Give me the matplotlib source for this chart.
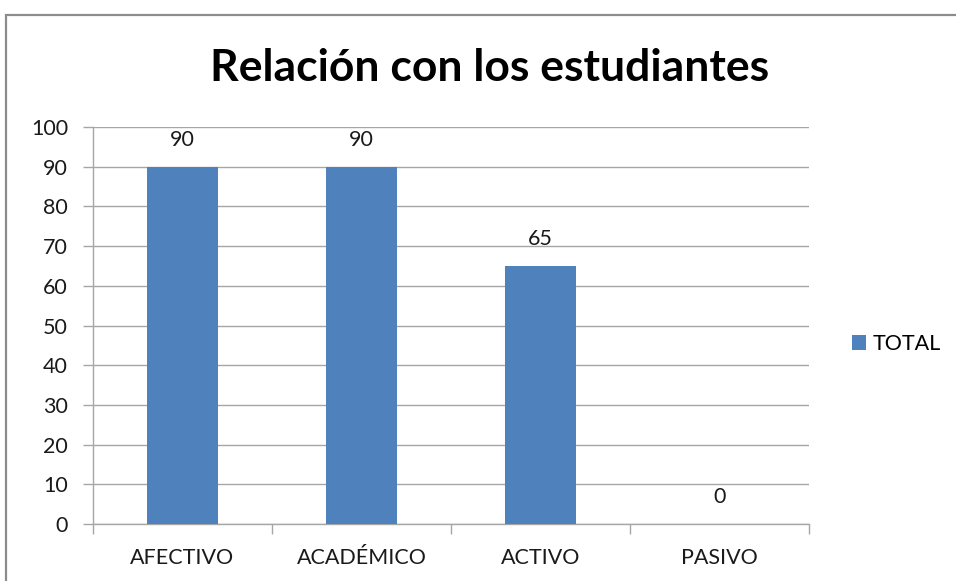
import numpy as np
import matplotlib.pyplot as plt
from matplotlib.patches import Rectangle
from matplotlib.ticker import FixedLocator, NullFormatter

categorias = ["AFECTIVO", "ACADÉMICO", "ACTIVO", "PASIVO"]
total = [90, 90, 65, 0]
serie = "TOTAL"

plt.rcParams['font.family'] = ['Lato', 'DejaVu Sans']

fig = plt.figure(figsize=(9.56, 5.81), dpi=100)
W, H = 956, 581

# chart border (grey frame, cut by image edge at right/bottom)
fig.add_artist(Rectangle((5.5 / W, -0.05), 1.1, 1 - 14.5 / H + 0.05,
                         transform=fig.transFigure, fill=False,
                         edgecolor='#8c8c8c', linewidth=1.6))

ax = fig.add_axes([93 / W, 1 - 524 / H, (809 - 93) / W, (524 - 127) / H])

x = np.arange(len(categorias))
bars = ax.bar(x, total, width=0.40, color='#4f81bd', label=serie, zorder=3)

# value labels
for xi, v in zip(x, total):
    ax.annotate(str(v), (xi, v), xytext=(0, 19.5), textcoords='offset points',
                ha='center', va='center', fontsize=15.5, color='#1a1a1a')

ax.set_xlim(-0.5, len(categorias) - 0.5)
ax.set_ylim(0, 100)
ax.set_yticks(np.arange(0, 101, 10))
ax.yaxis.grid(True, color='#a6a6a6', linewidth=1.0, zorder=0)
ax.tick_params(axis='y', length=7, width=1, color='#a6a6a6', labelsize=15.5,
               labelcolor='#1a1a1a', pad=11)

# category labels centered, ticks at boundaries
ax.set_xticks(x)
ax.set_xticklabels(categorias)
ax.tick_params(axis='x', which='major', length=0, labelsize=15.5,
               labelcolor='#1a1a1a', pad=17)
ax.xaxis.set_minor_locator(FixedLocator(np.arange(-0.5, len(categorias), 1.0)))
ax.xaxis.set_minor_formatter(NullFormatter())
ax.tick_params(axis='x', which='minor', length=7, width=1, color='#a6a6a6')

for s in ['top', 'right']:
    ax.spines[s].set_visible(False)
for s in ['left', 'bottom']:
    ax.spines[s].set_color('#a6a6a6')
    ax.spines[s].set_linewidth(1.0)

fig.text(490 / W, 1 - 68 / H, "Relación con los estudiantes", ha='center',
         va='center', fontsize=32, fontweight='bold', color='black')

fig.legend(handles=[bars], labels=[serie], loc='center left',
           bbox_to_anchor=(852 / W, 1 - 344 / H), frameon=False, fontsize=15.5,
           handlelength=0.65, handleheight=0.65, handletextpad=0.3,
           borderpad=0, borderaxespad=0)

fig.savefig("out.png", dpi=100)
